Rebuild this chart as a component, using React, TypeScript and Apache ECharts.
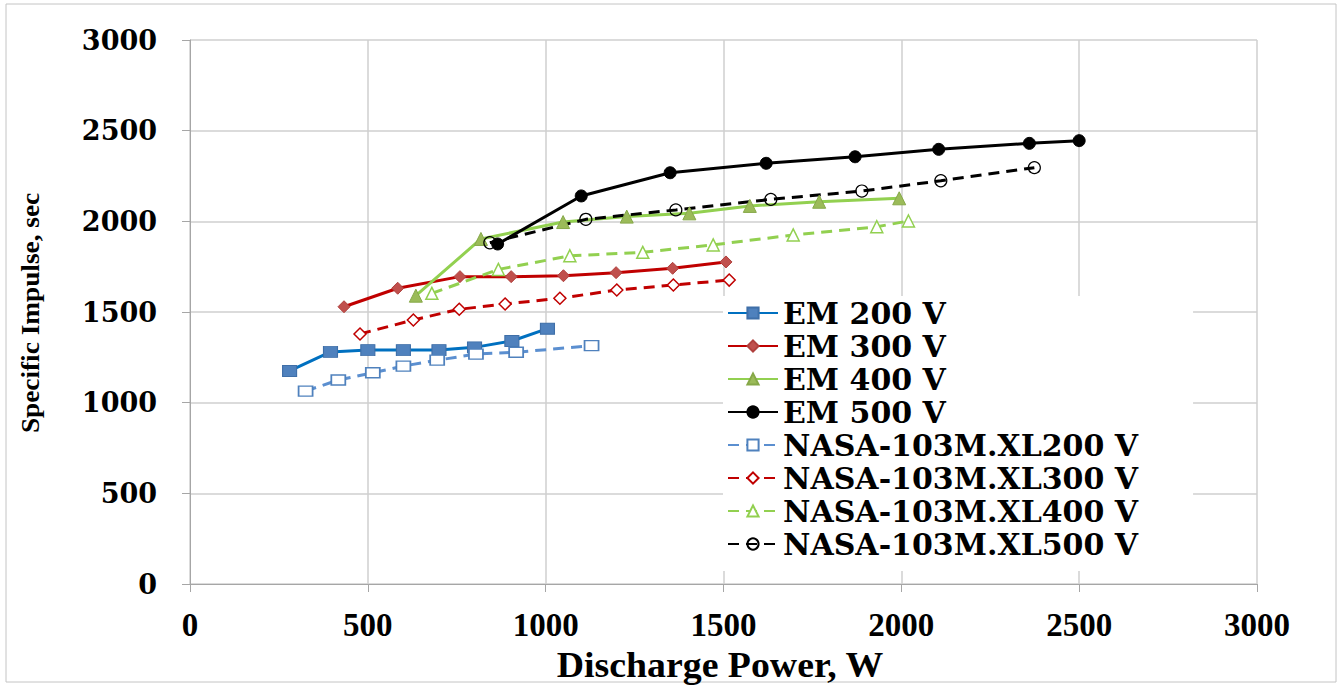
import React, { useEffect, useRef } from "react";
import * as echarts from "echarts";

const xTicks = [0, 500, 1000, 1500, 2000, 2500, 3000];
const yTicks = [0, 500, 1000, 1500, 2000, 2500, 3000];

const em200X = [280, 395, 500, 600, 700, 800, 905, 1005];
const em200Y = [1175, 1280, 1290, 1290, 1290, 1305, 1340, 1408];
const em300X = [433, 584, 759, 903, 1050, 1198, 1357, 1507];
const em300Y = [1529, 1631, 1695, 1695, 1700, 1717, 1741, 1776];
const em400X = [635, 818, 1049, 1228, 1404, 1574, 1769, 1994];
const em400Y = [1590, 1903, 1996, 2026, 2044, 2085, 2108, 2127];
const em500X = [865, 1100, 1350, 1620, 1870, 2105, 2360, 2500];
const em500Y = [1875, 2140, 2268, 2320, 2356, 2397, 2430, 2445];
const nasa200X = [325, 417, 514, 600, 695, 804, 917, 1129];
const nasa200Y = [1064, 1125, 1165, 1202, 1234, 1268, 1278, 1314];
const nasa300X = [478, 628, 757, 886, 1040, 1200, 1359, 1516];
const nasa300Y = [1379, 1456, 1515, 1544, 1576, 1621, 1649, 1676];
const nasa400X = [680, 867, 1068, 1273, 1471, 1696, 1931, 2020];
const nasa400Y = [1603, 1735, 1810, 1829, 1870, 1925, 1970, 2002];
const nasa500X = [843, 1113, 1366, 1633, 1889, 2111, 2374];
const nasa500Y = [1882, 2011, 2063, 2121, 2167, 2224, 2296];

const seriesNames = [
  "EM 200 V",
  "EM 300 V",
  "EM 400 V",
  "EM 500 V",
  "NASA-103M.XL200 V",
  "NASA-103M.XL300 V",
  "NASA-103M.XL400 V",
  "NASA-103M.XL500 V",
];

const TIMES = "Liberation Serif";

const zip = (xs: number[], ys: number[]) => xs.map((x, i) => [x, ys[i]]);

function mk(
  name: string,
  xs: number[],
  ys: number[],
  lineColor: string,
  dashed: boolean,
  symbol: string,
  size: number | number[],
  fill: string,
  stroke: string,
  bw: number
) {
  return {
    name,
    type: "line",
    data: zip(xs, ys),
    symbol,
    symbolSize: size,
    showAllSymbol: true,
    lineStyle: {
      color: lineColor,
      width: 3,
      type: dashed ? [11, 7] : "solid",
    },
    itemStyle: { color: fill, borderColor: stroke, borderWidth: bw },
    emphasis: { disabled: true },
  };
}

export default function App() {
  const ref = useRef<HTMLDivElement>(null);
  useEffect(() => {
    const chart = echarts.init(ref.current!, null, { renderer: "svg" });
    chart.setOption({
      animation: false,
      backgroundColor: "#fff",
      grid: { left: 190, right: 85, top: 40, bottom: 102, containLabel: false },
      xAxis: {
        type: "value",
        min: xTicks[0],
        max: xTicks[xTicks.length - 1],
        interval: 500,
        axisLine: { show: true, lineStyle: { color: "#a6a6a6", width: 1 } },
        axisTick: { show: true, length: 8, lineStyle: { color: "#a6a6a6" } },
        splitLine: { show: true, lineStyle: { color: "#cfcfcf", width: 1.5 } },
        axisLabel: {
          fontFamily: TIMES,
          fontWeight: "bold",
          color: "#000",
          fontSize: 33,
          margin: 24,
          formatter: (v: number) => String(v),
        },
      },
      yAxis: {
        type: "value",
        min: yTicks[0],
        max: yTicks[yTicks.length - 1],
        interval: 500,
        axisLine: { show: true, lineStyle: { color: "#a6a6a6", width: 1 } },
        axisTick: { show: true, length: 8, lineStyle: { color: "#a6a6a6" } },
        splitLine: { show: true, lineStyle: { color: "#cfcfcf", width: 1.5 } },
        axisLabel: {
          fontFamily: "DejaVu Serif",
          fontWeight: "bold",
          color: "#000",
          fontSize: 27,
          margin: 33,
          formatter: (v: number) => String(v),
        },
      },
      legend: {
        orient: "vertical",
        left: 723,
        top: 296,
        data: seriesNames,
        itemWidth: 50,
        itemHeight: 14,
        itemGap: 3,
        backgroundColor: "#fff",
        padding: [2, 55, 12, 4],
        textStyle: {
          fontFamily: "DejaVu Serif",
          fontWeight: "bold",
          fontSize: 30,
          lineHeight: 30,
          color: "#000",
        },
      },
      graphic: [
        {
          type: "rect",
          silent: true,
          shape: { x: 6, y: 4, width: 1330, height: 678 },
          style: { fill: "none", stroke: "#c4c4c4", lineWidth: 1 },
        },
        {
          type: "text",
          x: 30,
          y: 313,
          rotation: Math.PI / 2,
          scaleX: 1.05,
          style: {
            text: "Specific Impulse, sec",
            fontFamily: TIMES,
            fontWeight: "bold",
            fontSize: 26,
            fill: "#000",
            textAlign: "center",
            textVerticalAlign: "middle",
          },
        },
        {
          type: "text",
          x: 720,
          y: 665,
          scaleX: 1.05,
          style: {
            text: "Discharge Power, W",
            fontFamily: TIMES,
            fontWeight: "bold",
            fontSize: 36,
            fill: "#000",
            textAlign: "center",
            textVerticalAlign: "middle",
          },
        },
      ],
      series: [
        mk(seriesNames[0], em200X, em200Y, "#0070C0", false, "rect", [14, 11], "#4F81BD", "#3f6fa8", 1),
        mk(seriesNames[1], em300X, em300Y, "#C00000", false, "diamond", 12, "#C0504D", "#b0403d", 1),
        mk(seriesNames[2], em400X, em400Y, "#92D050", false, "triangle", 13, "#9BBB59", "#86a848", 1),
        mk(seriesNames[3], em500X, em500Y, "#000000", false, "circle", 12, "#000000", "#000000", 1),
        mk(seriesNames[4], nasa200X, nasa200Y, "#5B8FD0", true, "rect", [14, 10], "#ffffff", "#4F81BD", 1.5),
        mk(seriesNames[5], nasa300X, nasa300Y, "#C00000", true, "diamond", 12, "#ffffff", "#C00000", 1.5),
        mk(seriesNames[6], nasa400X, nasa400Y, "#92D050", true, "triangle", 12, "#ffffff", "#92D050", 1.5),
        mk(seriesNames[7], nasa500X, nasa500Y, "#000000", true, "circle", 12, "transparent", "#000000", 1.2),
      ],
    });
    return () => chart.dispose();
  }, []);
  return (
    <div
      ref={ref}
      style={{ position: "absolute", left: 0, top: 0, width: 1342, height: 686 }}
    />
  );
}
